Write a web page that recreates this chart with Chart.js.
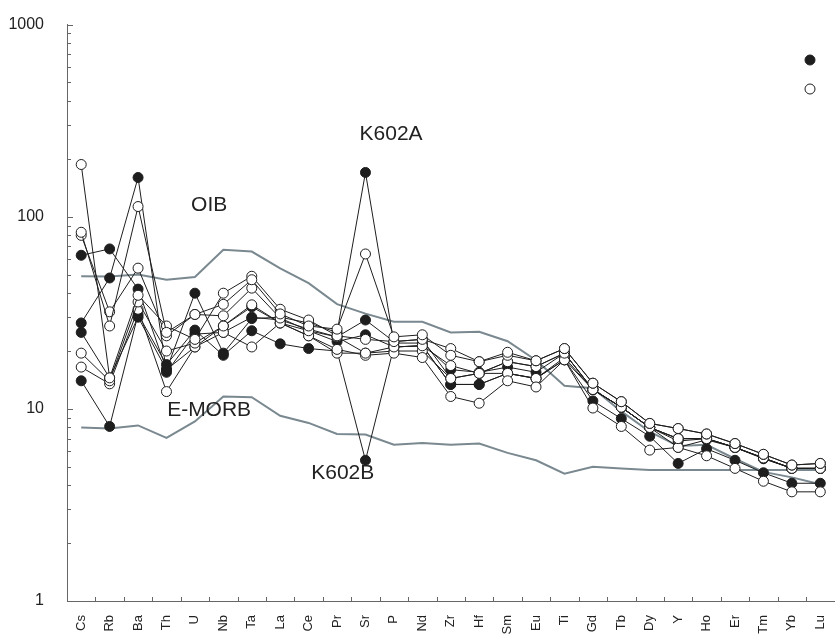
<!DOCTYPE html>
<html>
<head>
<meta charset="utf-8">
<script src="https://cdn.jsdelivr.net/npm/chart.js@4.4.1/dist/chart.umd.min.js"></script>
<style>
  html, body { margin: 0; padding: 0; background: #fff; overflow: hidden; }
  #wrap { width: 835px; height: 637px; overflow: hidden; position: relative; }
  #wrap canvas { position: absolute; left: 0; top: 0; }
</style>
</head>
<body>
<div id="wrap"><canvas id="spider" width="842" height="637"></canvas></div>
<script>
// ---- data (primitive-mantle normalised) ----
const elements = ['Cs','Rb','Ba','Th','U','Nb','Ta','La','Ce','Pr','Sr','P','Nd','Zr','Hf','Sm','Eu','Ti','Gd','Tb','Dy','Y','Ho','Er','Tm','Yb','Lu'];
const yTickLabels = [1, 10, 100, 1000];

const oib   = [49, 48.8, 50, 47, 48.6, 67.3, 65.9, 53.9, 45.1, 35.1, 31.3, 28.4, 28.4, 25, 25.2, 22.5, 17.9, 13.2, 12.8, 9.7, 7.6, 6.4, 6.5, 5.5, 4.7, 4.4, 4.05];
const emorb = [8.0, 7.9, 8.2, 7.06, 8.6, 11.6, 11.5, 9.2, 8.45, 7.4, 7.35, 6.5, 6.65, 6.5, 6.6, 5.9, 5.4, 4.6, 5.0, 4.9, 4.8, 4.8, 4.8, 4.8, 4.8, 4.8, 4.8];

// filled symbols
const k602a = [63, 68, 42, 16, 40, 19.5, 29.5, 30, 28, 25, 170, 22, 22, 16, 15.5, 16.5, 15.5, 19.5, 12.6, 10.2, 8.0, 6.8, 7.0, 6.3, 5.55, 4.9, 4.9];
const k602b = [14, 8.1, 31, 17, 25.7, 19, 25.5, 21.8, 20.6, 20, 5.4, 21, 21.3, 13.4, 13.4, 15.3, 14.4, 18, 11, 8.9, 7.2, 5.2, 6.2, 5.4, 4.65, 4.1, 4.1];
const filled3 = [28, 48, 160, 15.5, 24.5, 25, 30, 29, 26, 23.7, 29, 22.4, 23, 14.4, 15.3, 17.6, 16.6, 19.5, 12.6, 10.2, 8.0, 7.0, 7.0, 6.3, 5.55, 4.9, 4.9];
const filled4 = [25, 14.5, 30, 16, 21, 27, 34, 28, 25.5, 22.4, 24.3, 21, 21.3, 13.4, 13.4, 15.3, 14.4, 18.5, 12.6, 10.2, 8.0, 6.3, 6.9, 6.3, 5.5, 4.9, 4.9];

// open symbols
const open1 = [83, 27, 113, 25, 31, 35, 47, 31.2, 27, 26, 64, 23.7, 24.3, 19, 17.6, 19.7, 17.8, 20.6, 13.6, 10.9, 8.4, 7.9, 7.4, 6.6, 5.8, 5.1, 5.2];
const open2 = [187, 14.5, 39, 27, 23, 40, 49, 33, 29, 24, 23, 22.4, 23, 20.6, 17.6, 19, 17.8, 20.6, 13.6, 10.9, 8.4, 7.9, 7.4, 6.6, 5.8, 5.1, 5.2];
const open3 = [80, 32, 54, 24, 31, 30.5, 42.5, 29.7, 25.5, 23.7, 19.5, 21, 21.3, 16.8, 15.3, 17.6, 16.6, 19.5, 12.6, 10.2, 8.0, 7.0, 7.0, 6.3, 5.55, 4.9, 4.9];
const open4 = [19.5, 14, 36, 20, 22, 27, 34.8, 28, 24, 20.4, 19, 19.5, 18.5, 11.6, 10.7, 14, 13, 18, 10.1, 8.1, 6.1, 6.3, 5.7, 4.9, 4.2, 3.7, 3.7];
const open5 = [16.5, 13.5, 33, 12.3, 21, 25, 21, 28, 24, 19.5, 19.5, 20, 20, 14.4, 15.3, 15.3, 14.4, 18, 12.6, 10.2, 8.0, 7.0, 7.0, 6.3, 5.55, 4.9, 4.9];

// text labels: [text, element index, value]
const notes = [['OIB', 4.5, 115], ['K602A', 10.9, 270], ['E-MORB', 4.5, 9.8], ['K602B', 9.2, 4.65]];

const INK = '#1e1e1e';
const REF = '#7a8890';

function refLine(label, data) {
  return { label, data, borderColor: REF, borderWidth: 2, pointRadius: 0, order: 20 };
}
function sample(label, data, solid, order) {
  return {
    label, data, order,
    borderColor: INK, borderWidth: 1,
    pointRadius: 5, pointHoverRadius: 5,
    pointBackgroundColor: solid ? INK : '#fff',
    pointBorderColor: INK, pointBorderWidth: 1,
  };
}

// inward ticks, annotations and symbol key
const decor = {
  id: 'decor',
  afterDraw(chart) {
    const { ctx, chartArea: a, scales: { x, y } } = chart;
    ctx.save();
    ctx.strokeStyle = '#666';
    ctx.lineWidth = 1;
    ctx.beginPath();
    [1, 10, 100].forEach(d => {
      for (let m = 1; m <= 9; m++) {
        const py = Math.round(y.getPixelForValue(d * m)) + 0.5;
        ctx.moveTo(a.left, py); ctx.lineTo(a.left + (m === 1 ? 6 : 4), py);
      }
    });
    const top = Math.round(y.getPixelForValue(1000)) + 0.5;
    ctx.moveTo(a.left, top); ctx.lineTo(a.left + 6, top);
    for (let i = 0; i <= elements.length; i++) {
      const px = Math.round(x.getPixelForValue(i - 0.5)) + 0.5;
      ctx.moveTo(px, a.bottom); ctx.lineTo(px, a.bottom - 4);
    }
    ctx.stroke();

    ctx.fillStyle = '#222';
    ctx.font = '21px "Liberation Sans", Arial, sans-serif';
    ctx.textAlign = 'center';
    ctx.textBaseline = 'middle';
    notes.forEach(([t, i, v]) => ctx.fillText(t, x.getPixelForValue(i), y.getPixelForValue(v)));

    // symbol key (labels fall outside the picture)
    ctx.lineWidth = 1;
    ctx.strokeStyle = INK;
    [[60, INK], [89, '#fff']].forEach(([py, fill]) => {
      ctx.beginPath();
      ctx.arc(810, py, 5, 0, Math.PI * 2);
      ctx.fillStyle = fill; ctx.fill(); ctx.stroke();
    });
    ctx.restore();
  }
};

new Chart(document.getElementById('spider'), {
  type: 'line',
  data: {
    labels: elements,
    datasets: [
      refLine('OIB', oib),
      refLine('E-MORB', emorb),
      sample('K602A', k602a, true, 10),
      sample('K602B', k602b, true, 10),
      sample('F3', filled3, true, 10),
      sample('F4', filled4, true, 10),
      sample('O1', open1, false, 1),
      sample('O2', open2, false, 1),
      sample('O3', open3, false, 1),
      sample('O4', open4, false, 1),
      sample('O5', open5, false, 1),
    ],
  },
  options: {
    responsive: false,
    animation: false,
    events: [],
    layout: { padding: { top: 21, right: 0, bottom: 0, left: 0 } },
    plugins: { legend: { display: false }, tooltip: { enabled: false } },
    scales: {
      x: {
        type: 'category', offset: true,
        grid: { display: false },
        border: { color: '#666', width: 1 },
        ticks: { color: '#222', font: { family: 'Liberation Sans', size: 13 }, minRotation: 90, maxRotation: 90, autoSkip: false, padding: 6 },
        afterFit: s => { s.height = 36; },
      },
      y: {
        type: 'logarithmic', min: 1, max: 1000,
        grid: { display: false },
        border: { color: '#666', width: 1 },
        ticks: {
          color: '#222', font: { family: 'Liberation Sans', size: 16 }, padding: 15,
          callback: v => yTickLabels.includes(v) ? String(v) : null,
        },
        afterFit: s => { s.width = 67; },
      },
    },
  },
  plugins: [decor],
});
</script>
</body>
</html>
